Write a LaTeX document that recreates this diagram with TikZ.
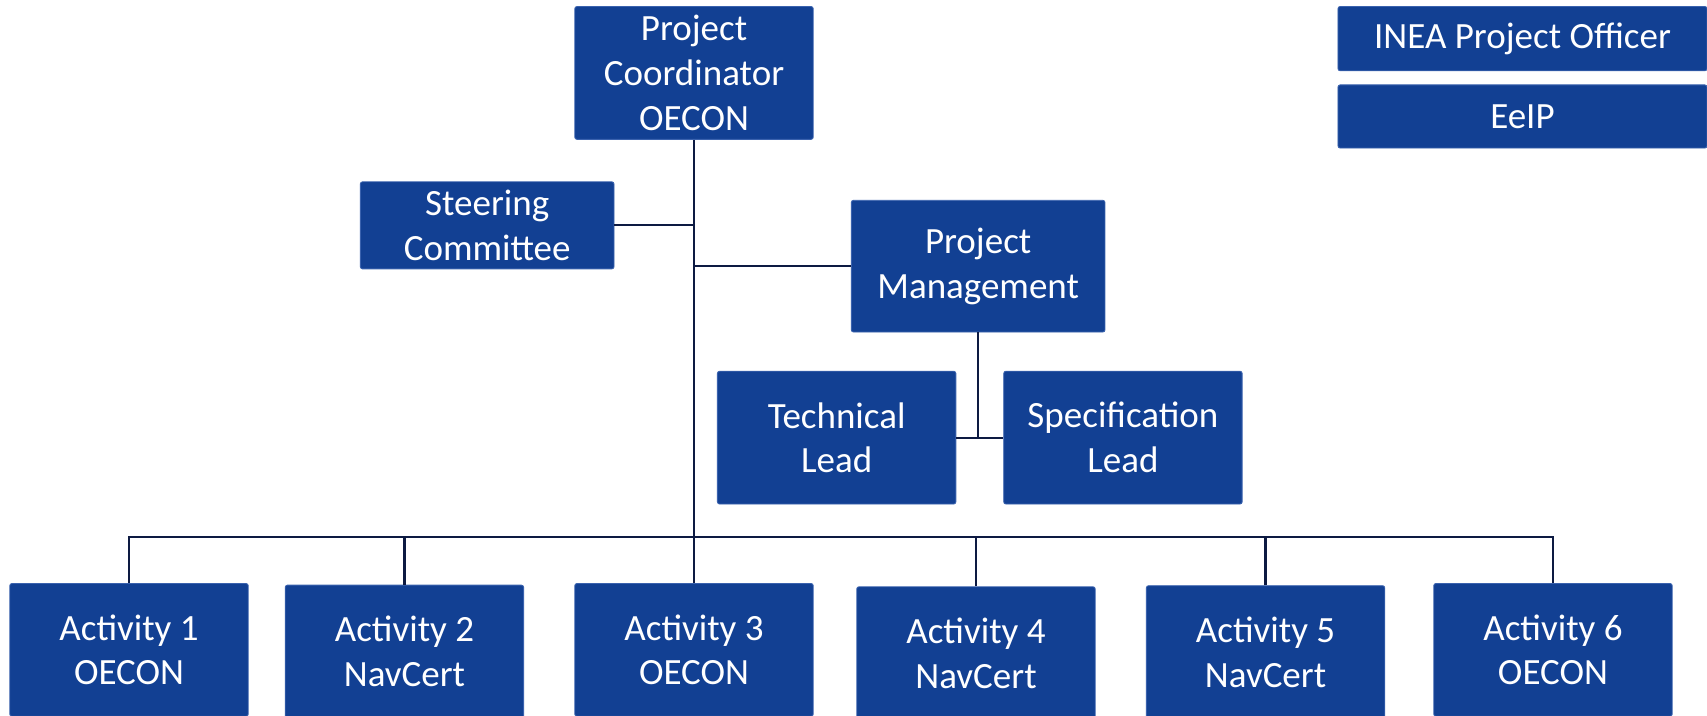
\documentclass[tikz,border=0pt]{standalone}
\usepackage{fontspec}
\setmainfont{Carlito}
\definecolor{boxblue}{HTML}{124093}
\definecolor{boxedge}{HTML}{3A62AE}
\definecolor{linenavy}{HTML}{0D1A42}
\begin{document}
\begin{tikzpicture}[x=0.5pt,y=-0.5pt,
  orgbox/.style={rectangle, rounded corners=1pt, fill=boxblue, draw=boxedge, line width=0.4pt,
    text=white, align=center, inner sep=0pt, font=\fontsize{17}{20.5}\selectfont},
  conn/.style={draw=linenavy, line width=1pt}]
\useasboundingbox (0,0) rectangle (1568,657);
\node[orgbox, minimum width=109.5pt, minimum height=61pt] (coord) at (637.5,67) {Project\\Coordinator\\OECON};
\node[orgbox, minimum width=169.5pt, minimum height=29.5pt] (inea) at (1398.5,35.5) {INEA Project Officer};
\node[orgbox, minimum width=169.5pt, minimum height=29pt] (eeip) at (1398.5,107) {EeIP};
\node[orgbox, minimum width=116.5pt, minimum height=40pt] (steer) at (447.5,207) {Steering\\Committee};
\node[orgbox, minimum width=116.5pt, minimum height=60.5pt] (pm) at (898.5,244.5) {Project\\Management};
\node[orgbox, minimum width=109.5pt, minimum height=61pt] (tech) at (768.5,402) {Technical\\Lead};
\node[orgbox, minimum width=109.5pt, minimum height=61pt] (spec) at (1031.5,402) {Specification\\Lead};
\node[orgbox, minimum width=109.5pt, minimum height=61pt] (a1) at (118.5,597) {Activity 1\\OECON};
\node[orgbox, minimum width=109.5pt, minimum height=61pt] (a2) at (371.5,598.5) {Activity 2\\NavCert};
\node[orgbox, minimum width=109.5pt, minimum height=61pt] (a3) at (637.5,597) {Activity 3\\OECON};
\node[orgbox, minimum width=109.5pt, minimum height=61pt] (a4) at (896.5,600) {Activity 4\\NavCert};
\node[orgbox, minimum width=109.5pt, minimum height=61pt] (a5) at (1162.5,599) {Activity 5\\NavCert};
\node[orgbox, minimum width=109.5pt, minimum height=61pt] (a6) at (1426.5,597) {Activity 6\\OECON};
\coordinate (bus) at (637.5,493);
\path[conn] (coord.south) -- (a3.north);
\path[conn] (steer.east) -- (steer.east -| coord.south);
\path[conn] (pm.west) -- (pm.west -| coord.south);
\path[conn] (pm.south) -- (pm.south |- tech.east);
\path[conn] (tech.east) -- (spec.west);
\foreach \a in {a1,a2,a4,a5,a6} {\path[conn] (\a.north) |- (bus);}
\end{tikzpicture}
\end{document}
